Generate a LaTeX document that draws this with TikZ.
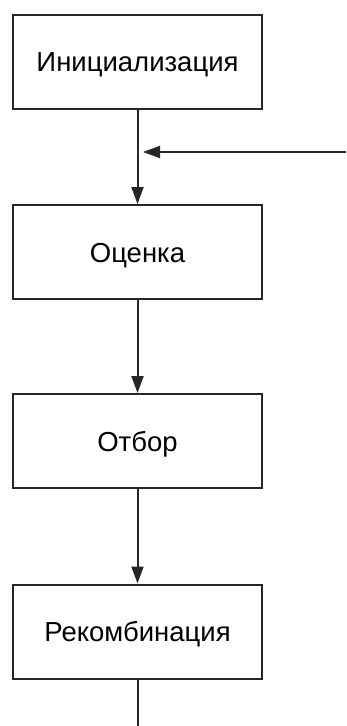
\documentclass[tikz,border=0pt]{standalone}
\usepackage{fontspec}
\setmainfont{Liberation Sans}
\usetikzlibrary{arrows.meta}
\definecolor{LineClr}{rgb}{0.15,0.15,0.15}
\tikzset{
  stage/.style={draw=LineClr,line width=2pt,minimum width=249pt,minimum height=94pt,
    inner sep=0pt,text height=20pt,text depth=0pt,font=\fontsize{27.5}{32}\selectfont},
  flow/.style={draw=LineClr,line width=2pt,-{Triangle[length=17pt,width=12pt]}}
}

\begin{document}
\begin{tikzpicture}[x=1pt,y=-1pt]
\useasboundingbox (0,0) rectangle (346,726);

\node[stage] (init) at (137.5,61.5) {Инициализация};
\node[stage] (eval) at (137.5,252) {Оценка};
\node[stage] (sel)  at (137.5,441) {Отбор};
\node[stage] (rec)  at (137.5,631.5) {Рекомбинация};

% Loop back in from the right, and the way out at the bottom.
\coordinate (feed) at (346,152);
\coordinate (join) at (143,152);
\coordinate (out)  at (137.5,726);

\draw[flow] (init) -- (eval);
\draw[flow] (eval) -- (sel);
\draw[flow] (sel) -- (rec);
\draw[flow] (feed) -- (join);
\draw[draw=LineClr,line width=2pt] (rec) -- (out);

\end{tikzpicture}
\end{document}
